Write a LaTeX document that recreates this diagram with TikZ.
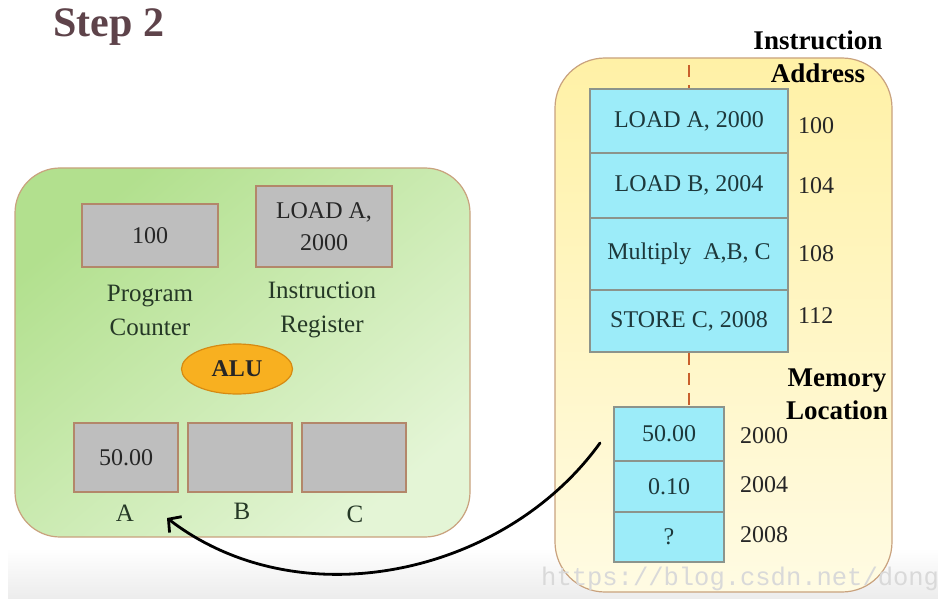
\documentclass[tikz,border=0pt]{standalone}
\usepackage{fontspec}
\setmainfont{Liberation Serif}
\newfontfamily\monofnt{Liberation Mono}
\usetikzlibrary{arrows.meta,shapes.geometric}
\definecolor{titlecol}{HTML}{5E434A}
\definecolor{greenA}{HTML}{B2E08E}
\definecolor{greenB}{HTML}{E4F5D6}
\definecolor{panelborder}{HTML}{C9A27E}
\definecolor{reggray}{HTML}{BEBEBE}
\definecolor{regborder}{HTML}{B3876A}
\definecolor{regtext}{HTML}{262626}
\definecolor{labeltext}{HTML}{253826}
\definecolor{alufill}{HTML}{F8B020}
\definecolor{aluborder}{HTML}{D68A12}
\definecolor{yellowA}{HTML}{FFF1A6}
\definecolor{yellowB}{HTML}{FFFBE3}
\definecolor{cellfill}{HTML}{9CECF9}
\definecolor{cellborder}{HTML}{8C948C}
\definecolor{celltext}{HTML}{1D383B}
\definecolor{dashcol}{HTML}{C9602C}
\definecolor{bandgray}{HTML}{ECECEC}
\begin{document}
\begin{tikzpicture}[x=1pt,y=-1pt,
  reg/.style={draw=regborder, fill=reggray, line width=1.2pt, minimum width=136pt, inner sep=0pt,
    font=\fontsize{24}{32}\selectfont, text=regtext, align=center},
  lbl/.style={font=\fontsize{25}{34}\selectfont, text=labeltext, align=center, inner sep=0pt},
  cell/.style={draw=cellborder, fill=cellfill, line width=1.2pt, inner sep=0pt,
    font=\fontsize{24}{28}\selectfont, text=celltext},
  addr/.style={anchor=west, font=\fontsize{24}{28}\selectfont, text=regtext, inner sep=0pt},
  hdr/.style={font=\bfseries\fontsize{27}{33}\selectfont, text=black, align=center, inner sep=0pt},
  panel/.style={draw=panelborder, line width=1.2pt},
  dashline/.style={draw=dashcol, line width=2.6pt, dash pattern=on 12pt off 8pt}
]
\useasboundingbox (0,0) rectangle (938,599);
\clip (0,0) rectangle (938,599);
\fill[white] (0,0) rectangle (938,599);
% bottom band of the screenshot
\shade[top color=white, bottom color=bandgray] (8,548) rectangle (938,599);

% title
\node[anchor=base west, inner sep=0pt, font=\bfseries\fontsize{42}{46}\selectfont, text=titlecol] (title) at (53,37) {Step 2};

% left panel (CPU)
\shade[panel, top color=greenA, bottom color=greenB, shading angle=40, rounded corners=45pt]
  (15,168) rectangle (470,537);
\node[reg, minimum height=63pt] (pc) at (150,235.5) {100};
\node[reg, minimum height=81pt] (ir) at (324,226.5) {LOAD A,\\2000};
\node[lbl] (pclbl) at (150,310) {Program\\Counter};
\node[lbl] (irlbl) at (322,310) {Instruction\\Register};
\node[ellipse, draw=aluborder, fill=alufill, line width=1.2pt, minimum width=111pt, minimum height=50pt,
  inner sep=0pt, font=\bfseries\fontsize{24}{26}\selectfont, text=black!85] (alu) at (237,369) {ALU};
\node[reg, minimum width=104pt, minimum height=69pt] (ra) at (126,457.5) {50.00};
\node[reg, minimum width=104pt, minimum height=69pt] (rb) at (240,457.5) {};
\node[reg, minimum width=104pt, minimum height=69pt] (rc) at (354,457.5) {};
\node[lbl] (la) at (125,513) {A};
\node[lbl] (lb) at (242,511) {B};
\node[lbl] (lc) at (355,514) {C};

% right panel (memory)
\shade[panel, top color=yellowA, bottom color=yellowB, rounded corners=50pt]
  (555,58) rectangle (892,592);
\node[hdr] (insthdr) at (818,57) {Instruction\\Address};
\node[cell, minimum width=198pt, minimum height=64pt] (i1) at (689,121) {LOAD A, 2000};
\node[cell, minimum width=198pt, minimum height=65pt] (i2) at (689,185.5) {LOAD B, 2004};
\node[cell, minimum width=198pt, minimum height=72pt] (i3) at (689,254) {Multiply\ \ A,B, C};
\node[cell, minimum width=198pt, minimum height=62pt] (i4) at (689,321) {STORE C, 2008};
\node[addr] (a1) at (798,126) {100};
\node[addr] (a2) at (798,186) {104};
\node[addr] (a3) at (798,254) {108};
\node[addr] (a4) at (798,316) {112};
\node[hdr] (memhdr) at (837,394) {Memory\\Location};
\node[cell, minimum width=110pt, minimum height=54pt] (m1) at (669,434) {50.00};
\node[cell, minimum width=110pt, minimum height=51pt] (m2) at (669,486.5) {0.10};
\node[cell, minimum width=110pt, minimum height=50pt] (m3) at (669,537) {?};
\node[addr] (b1) at (740,436) {2000};
\node[addr] (b2) at (740,485) {2004};
\node[addr] (b3) at (740,535) {2008};

% dashed guides
\coordinate (dtop) at (689,65);
\draw[dashline] (dtop) -- (i1.north);
\draw[dashline] (i4.south) -- (i4.south |- m1.north);

% transfer arrow
\coordinate (arrS) at (600,443);
\coordinate (arrE) at (167,518);
\draw[line width=2.8pt, line cap=round, -{Straight Barb[length=9pt,width=20pt]}]
  (arrS) .. controls (505,575) and (300,620) .. (arrE);

% watermark
\node[anchor=base west, inner sep=0pt, font=\monofnt\fontsize{25.5}{28}\selectfont, text=black!15] (wm) at (541,585) {https://blog.csdn.net/dong};
\end{tikzpicture}
\end{document}
